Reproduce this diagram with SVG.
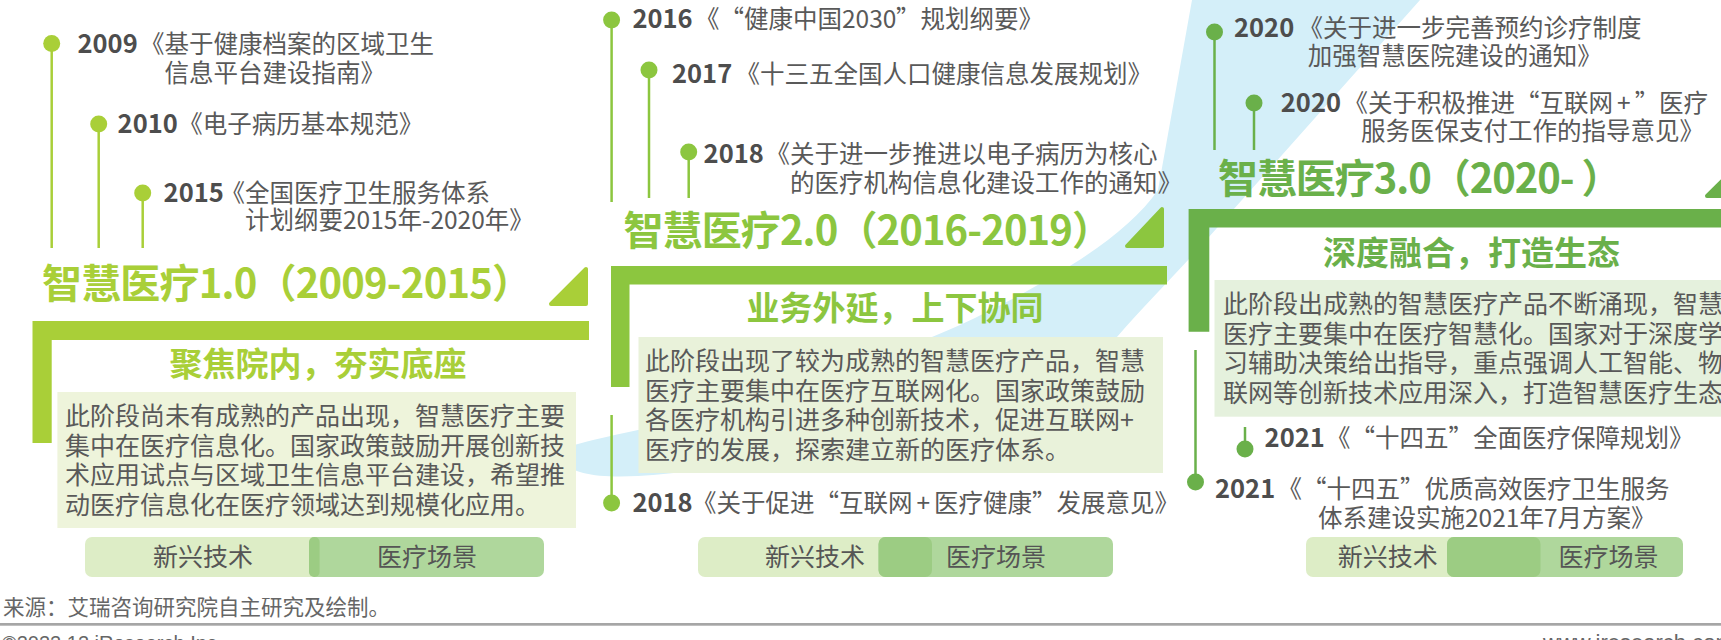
<svg xmlns="http://www.w3.org/2000/svg" width="1721" height="640" viewBox="0 0 1721 640">
<style>
text{font-family:"Noto Sans CJK SC","Noto Sans",sans-serif}
.p{font-size:24.5px;fill:#595959}
.y{font-weight:700;fill:#4d4d4d;font-size:25.5px}
.b{font-size:25px;fill:#595959}
.ttl{font-size:40px;font-weight:700}
.sub{font-size:33px;font-weight:700;text-anchor:middle}
.pl{font-size:25px;fill:#555;text-anchor:middle}
.c1{fill:#a9cf38}.c2{fill:#8cc63f}.c3{fill:#6ab04a}
.l1{stroke:#a9cf38;stroke-width:2.5}.l2{stroke:#8cc63f;stroke-width:2.5}.l3{stroke:#6ab04a;stroke-width:2.5}
.pa{fill:#ddedc6}.pb{fill:#afd79c}.po{fill:#9ccc83}
</style>
<rect width="1721" height="640" fill="#fff"/>
<g id="swoosh">
<path d="M566,462 C566,450 570,446 578,444 C600,438 620,434 638,430 C780,400 880,360 960,325 C1050,282 1125,238 1158,190 L1192,0 L1420,0 L1200,247 C1170,280 1140,310 1117,337 C1000,420 800,465 638,476 C600,478 570,474 566,462 Z" fill="#d4eff9"/>
</g>
<g id="connectors">
<line class="l1" x1="51.7" y1="43" x2="51.7" y2="248"/>
<line class="l1" x1="98.7" y1="124" x2="98.7" y2="248"/>
<line class="l1" x1="142.7" y1="193" x2="142.7" y2="248"/>
<line class="l2" x1="611.6" y1="20" x2="611.6" y2="202"/>
<line class="l2" x1="649" y1="70" x2="649" y2="198"/>
<line class="l2" x1="688.7" y1="152" x2="688.7" y2="198"/>
<line class="l2" x1="611.6" y1="415" x2="611.6" y2="503"/>
<line class="l3" x1="1214.5" y1="32" x2="1214.5" y2="150"/>
<line class="l3" x1="1254" y1="103" x2="1254" y2="150"/>
<line class="l3" x1="1195.5" y1="350" x2="1195.5" y2="482"/>
<line class="l3" x1="1245" y1="427" x2="1245" y2="449"/>
</g>
<g id="stage1">
<path class="c1" d="M32.5,321 H589 V340 H51.7 V443 H32.5 Z"/>
<path class="c1" d="M551,304 L586,269 L586,304 Z" stroke="#a9cf38" stroke-width="4" stroke-linejoin="round"/>
<text class="ttl c1" x="42" y="298" textLength="490" lengthAdjust="spacing">智慧医疗1.0（2009-2015）</text>
<text class="sub c1" x="318" y="376">聚焦院内，夯实底座</text>
<rect x="57.4" y="392" width="518.6" height="136" fill="#eef4db"/>
<text class="b"><tspan x="65" y="425">此阶段尚未有成熟的产品出现，智慧医疗主要</tspan><tspan x="65" y="454.5">集中在医疗信息化。国家政策鼓励开展创新技</tspan><tspan x="65" y="484">术应用试点与区域卫生信息平台建设，希望推</tspan><tspan x="65" y="513.5">动医疗信息化在医疗领域达到规模化应用。</tspan></text>
<rect class="pa" x="85" y="537" width="234.6" height="40" rx="7"/>
<rect class="pb" x="309" y="537" width="235" height="40" rx="7"/>
<rect class="po" x="309" y="537" width="10.6" height="40" rx="5"/>
<text class="pl" x="203" y="566">新兴技术</text>
<text class="pl" x="427" y="566">医疗场景</text>
</g>
<g id="policies1">
<circle class="c1" cx="51.7" cy="43.5" r="8.5"/>
<circle class="c1" cx="98.7" cy="124" r="8.5"/>
<circle class="c1" cx="142.7" cy="193" r="8.5"/>
<text class="p"><tspan class="y" x="77.5" y="53">2009</tspan><tspan x="140" y="53">《基于健康档案的区域卫生</tspan><tspan x="164.6" y="82">信息平台建设指南》</tspan></text>
<text class="p"><tspan class="y" x="117.6" y="133">2010</tspan><tspan x="178.3" y="133">《电子病历基本规范》</tspan></text>
<text class="p"><tspan class="y" x="163.6" y="202">2015</tspan><tspan x="220.5" y="202">《全国医疗卫生服务体系</tspan><tspan x="245" y="229">计划纲要2015年-2020年》</tspan></text>
</g>
<g id="stage2">
<path class="c2" d="M611,266 H1167 V284.5 H629.5 V387 H611 Z"/>
<path class="c2" d="M1127,246 L1162,209 L1162,246 Z" stroke="#8cc63f" stroke-width="4" stroke-linejoin="round"/>
<text class="ttl c2" x="623.5" y="245" textLength="488.5" lengthAdjust="spacing">智慧医疗2.0（2016-2019）</text>
<text class="sub c2" x="895" y="320">业务外延，上下协同</text>
<rect x="638.5" y="337" width="524.5" height="136" fill="#e9f2da"/>
<text class="b"><tspan x="645" y="370">此阶段出现了较为成熟的智慧医疗产品，智慧</tspan><tspan x="645" y="399.5">医疗主要集中在医疗互联网化。国家政策鼓励</tspan><tspan x="645" y="429">各医疗机构引进多种创新技术，促进互联网+</tspan><tspan x="645" y="458.5">医疗的发展，探索建立新的医疗体系。</tspan></text>
<rect class="pa" x="698" y="537" width="234" height="40" rx="7"/>
<rect class="pb" x="878.5" y="537" width="234.5" height="40" rx="7"/>
<rect class="po" x="878.5" y="537" width="53.5" height="40" rx="7"/>
<text class="pl" x="815" y="566">新兴技术</text>
<text class="pl" x="996" y="566">医疗场景</text>
</g>
<g id="policies2">
<circle class="c2" cx="611.6" cy="20" r="8.5"/>
<circle class="c2" cx="649" cy="70" r="8.5"/>
<circle class="c2" cx="688.7" cy="152" r="8.5"/>
<circle class="c2" cx="611.6" cy="503" r="8.5"/>
<text class="p"><tspan class="y" x="632.4" y="28">2016</tspan><tspan x="695" y="28">《</tspan><tspan x="719.5" y="28">“</tspan><tspan x="744" y="28">健康中国2030</tspan><tspan x="896" y="28">”</tspan><tspan x="920.5" y="28">规划纲要》</tspan></text>
<text class="p"><tspan class="y" x="672" y="83">2017</tspan><tspan x="735.5" y="83">《十三五全国人口健康信息发展规划》</tspan></text>
<text class="p"><tspan class="y" x="703.6" y="163">2018</tspan><tspan x="765.5" y="163">《关于进一步推进以电子病历为核心</tspan><tspan x="790" y="192">的医疗机构信息化建设工作的通知》</tspan></text>
<text class="p"><tspan class="y" x="632.4" y="512">2018</tspan><tspan x="692" y="512">《关于促进</tspan><tspan x="814.4" y="512">“</tspan><tspan x="839" y="512">互联网</tspan><tspan x="916.5" y="512">+</tspan><tspan x="934" y="512">医疗健康</tspan><tspan x="1032" y="512">”</tspan><tspan x="1056.5" y="512">发展意见》</tspan></text>
</g>
<g id="stage3">
<path class="c3" d="M1188.6,209 H1721 V227.5 H1209.3 V331.7 H1188.6 Z"/>
<path class="c3" d="M1707,196 L1742,161 L1742,196 Z" stroke="#6ab04a" stroke-width="4" stroke-linejoin="round"/>
<text class="ttl c3" x="1218" y="193" textLength="403.6" lengthAdjust="spacing">智慧医疗3.0（2020- ）</text>
<text class="sub c3" x="1471.5" y="265">深度融合，打造生态</text>
<rect x="1214.5" y="280" width="520" height="136.7" fill="#e5f1dd"/>
<text class="b"><tspan x="1223" y="313">此阶段出成熟的智慧医疗产品不断涌现，智慧</tspan><tspan x="1223" y="342.5">医疗主要集中在医疗智慧化。国家对于深度学</tspan><tspan x="1223" y="372">习辅助决策给出指导，重点强调人工智能、物</tspan><tspan x="1223" y="401.5">联网等创新技术应用深入，打造智慧医疗生态</tspan></text>
<rect class="pa" x="1306" y="537" width="234.5" height="40" rx="7"/>
<rect class="pb" x="1447" y="537" width="236" height="40" rx="7"/>
<rect class="po" x="1447" y="537" width="93.5" height="40" rx="7"/>
<text class="pl" x="1387.7" y="566">新兴技术</text>
<text class="pl" x="1608.6" y="566">医疗场景</text>
</g>
<g id="policies3">
<circle class="c3" cx="1214.5" cy="32" r="8.5"/>
<circle class="c3" cx="1254" cy="103" r="8.5"/>
<circle class="c3" cx="1195.5" cy="482" r="8.5"/>
<circle class="c3" cx="1245" cy="449" r="8.5"/>
<text class="p"><tspan class="y" x="1234" y="37">2020</tspan><tspan x="1298.5" y="37">《关于进一步完善预约诊疗制度</tspan><tspan x="1307.7" y="65">加强智慧医院建设的通知》</tspan></text>
<text class="p"><tspan class="y" x="1280.8" y="112">2020</tspan><tspan x="1343.5" y="112">《关于积极推进</tspan><tspan x="1515" y="112">“</tspan><tspan x="1539.5" y="112">互联网</tspan><tspan x="1617" y="112">+</tspan><tspan x="1634.7" y="112">”</tspan><tspan x="1659" y="112">医疗</tspan><tspan x="1361" y="140">服务医保支付工作的指导意见》</tspan></text>
<text class="p"><tspan class="y" x="1264.6" y="447">2021</tspan><tspan x="1326" y="447">《</tspan><tspan x="1350.5" y="447">“</tspan><tspan x="1375" y="447">十四五</tspan><tspan x="1448.5" y="447">”</tspan><tspan x="1473" y="447">全面医疗保障规划》</tspan></text>
<text class="p"><tspan class="y" x="1215" y="498">2021</tspan><tspan x="1277.6" y="498">《</tspan><tspan x="1302" y="498">“</tspan><tspan x="1326.6" y="498">十四五</tspan><tspan x="1400" y="498">”</tspan><tspan x="1424.6" y="498">优质高效医疗卫生服务</tspan><tspan x="1318" y="527">体系建设实施2021年7月方案》</tspan></text>
</g>
<g id="footer">
<text x="3" y="615" style="font-size:21.5px;fill:#666">来源：艾瑞咨询研究院自主研究及绘制。</text>
<rect x="0" y="623" width="1721" height="2.7" fill="#a6a6a6"/>
<text x="2" y="650" style="font-family:'Liberation Sans',sans-serif;font-size:20px;fill:#666">©2022.12 iResearch Inc.</text>
<text x="1543" y="650" style="font-family:'Liberation Sans',sans-serif;font-size:22px;fill:#666">www.iresearch.com.cn</text>
</g>
</svg>
